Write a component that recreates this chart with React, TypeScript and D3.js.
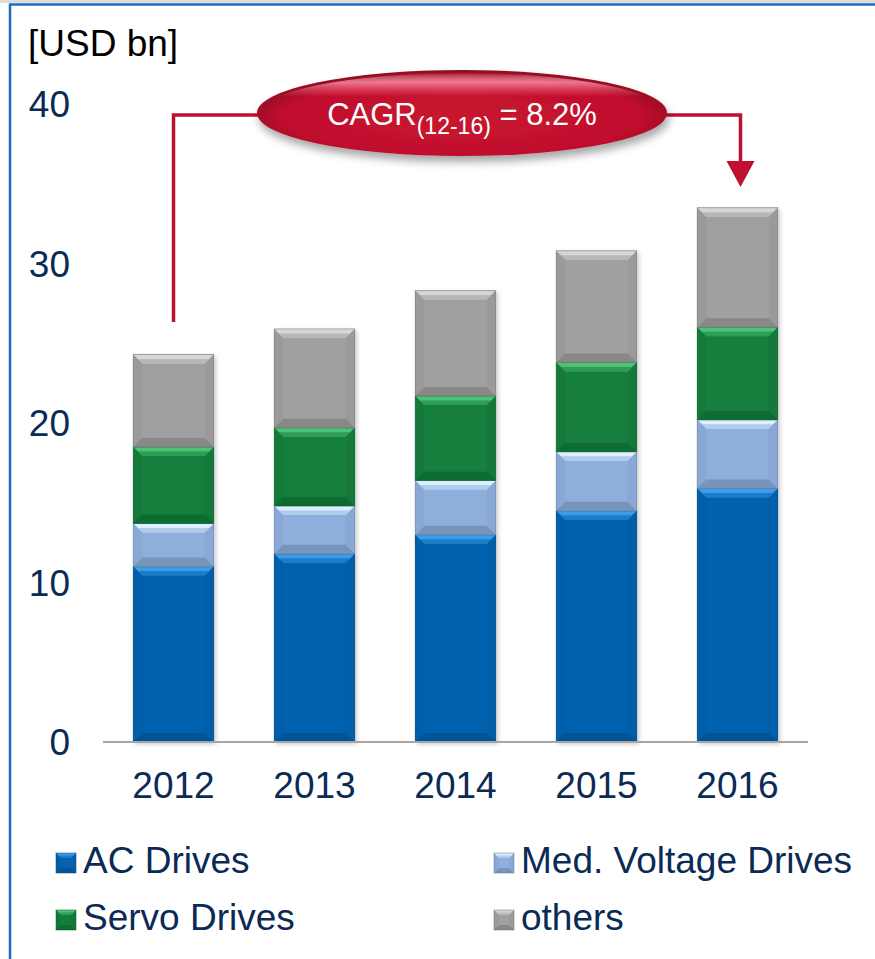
import React from "react";
import { scaleBand, scaleLinear, stack, color } from "d3";

const years = ["2012", "2013", "2014", "2015", "2016"];
const seriesNames = ["AC Drives", "Med. Voltage Drives", "Servo Drives", "others"];
const acDrives = [11.0, 11.8, 13.0, 14.5, 15.9];
const medVoltage = [2.7, 3.0, 3.4, 3.7, 4.3];
const servoDrives = [4.8, 4.9, 5.3, 5.6, 5.8];
const others = [5.8, 6.2, 6.6, 7.0, 7.5];
const yTicks = [0, 10, 20, 30, 40];
const cagrLabel = "CAGR";
const cagrPeriod = "(12-16)";
const cagrValue = " = 8.2%";

// base / top bevel / bottom bevel / side bevel
const palette = [
  { base: "#0562af", top: "#3a9ce8", bottom: "#0455990", side: "#055ea8" },
  { base: "#8eaedb", top: "#dcefff", bottom: "#7d98c2", side: "#89a8d5" },
  { base: "#147f3c", top: "#4cc274", bottom: "#0f6630", side: "#12783a" },
  { base: "#a0a0a0", top: "#d6d6d6", bottom: "#878787", side: "#9a9a9a" },
].map((p) => ({ ...p, bottom: color(p.base)!.darker(0.45).formatHex() }));

const W = 875;
const H = 959;
const FONT = "Arial, 'Liberation Sans', Helvetica, sans-serif";
const TEXT = "#0b2a55";
const RED = "#c1102f";

function Bevel({ x, y, w, h, b, c }: { x: number; y: number; w: number; h: number; b: number; c: (typeof palette)[number] }) {
  const bb = Math.min(b, h / 2, w / 2);
  const pts = (p: number[][]) => p.map((q) => q.join(",")).join(" ");
  return (
    <g>
      <rect x={x} y={y} width={w} height={h} fill={c.base} />
      <polygon points={pts([[x, y], [x + bb, y + bb], [x + bb, y + h - bb], [x, y + h]])} fill={c.side} />
      <polygon points={pts([[x + w, y], [x + w - bb, y + bb], [x + w - bb, y + h - bb], [x + w, y + h]])} fill={c.side} />
      <polygon points={pts([[x, y + h], [x + bb, y + h - bb], [x + w - bb, y + h - bb], [x + w, y + h]])} fill={c.bottom} />
      <polygon points={pts([[x, y], [x + w, y], [x + w - bb, y + bb], [x + bb, y + bb]])} fill={c.top} />
      <polygon
        points={pts([[x + bb * 0.5, y + bb * 0.5], [x + w - bb * 0.5, y + bb * 0.5], [x + w - bb, y + bb], [x + bb, y + bb]])}
        fill={c.base}
        opacity={0.55}
      />
      <rect x={x} y={y} width={w} height={h} fill="none" stroke={color(c.base)!.darker(1).formatHex()} strokeOpacity={0.5} strokeWidth={1} />
    </g>
  );
}

export default function App() {
  const rows = years.map((yr, i) => ({
    year: yr,
    [seriesNames[0]]: acDrives[i],
    [seriesNames[1]]: medVoltage[i],
    [seriesNames[2]]: servoDrives[i],
    [seriesNames[3]]: others[i],
  }));
  const stacked = stack<any>().keys(seriesNames)(rows);

  const x = scaleBand().domain(years).range([103, 808]).paddingInner(0.43).paddingOuter(0.215);
  const y = scaleLinear().domain([0, 40]).range([742, 104]);

  const first = years[0];
  const last = years[years.length - 1];
  const x0 = x(first)! + x.bandwidth() / 2;
  const x1 = x(last)! + x.bandwidth() / 2;
  const ex = 462;
  const ey = 113;
  const rx = 205;
  const ry = 43;

  return (
    <div style={{ position: "absolute", left: 0, top: 0 }}>
      <svg width={W} height={H} viewBox={`0 0 ${W} ${H}`} style={{ display: "block", background: "#fff" }}>
        <defs>
          <radialGradient id="ellFill" cx="50%" cy="55%" r="55%">
            <stop offset="0%" stopColor="#c8142f" />
            <stop offset="80%" stopColor="#c0102d" />
            <stop offset="100%" stopColor="#8e0a20" />
          </radialGradient>
          <linearGradient id="ellShine" x1="0" y1="0" x2="0" y2="1">
            <stop offset="0%" stopColor="#ffffff" stopOpacity={0.05} />
            <stop offset="12%" stopColor="#ff9aae" stopOpacity={0.75} />
            <stop offset="30%" stopColor="#ff6a86" stopOpacity={0} />
            <stop offset="100%" stopColor="#ff6a86" stopOpacity={0} />
          </linearGradient>
          <filter id="shadow" x="-20%" y="-30%" width="140%" height="170%">
            <feDropShadow dx="2" dy="6" stdDeviation="4" floodColor="#000" floodOpacity="0.35" />
          </filter>
          <filter id="barShadow" x="-10%" y="-5%" width="130%" height="110%">
            <feDropShadow dx="2" dy="2" stdDeviation="2" floodColor="#000" floodOpacity="0.2" />
          </filter>
        </defs>

        {/* frame */}
        <rect x={0} y={0} width={W} height={3} fill="#dcdcdc" />
        <line x1={9} x2={W} y1={4.5} y2={4.5} stroke="#1b6cc0" strokeWidth={2.5} />
        <line x1={10} x2={10} y1={4} y2={H} stroke="#1b6cc0" strokeWidth={2.5} />

        {/* unit */}
        <text x={28} y={56} fontFamily={FONT} fontSize={37} fill="#000">[USD bn]</text>

        {/* y ticks */}
        {yTicks.map((t) => (
          <text key={t} x={70} y={y(t) + 13} textAnchor="end" fontFamily={FONT} fontSize={37} fill={TEXT}>
            {t}
          </text>
        ))}

        {/* bars */}
        <g filter="url(#barShadow)">
          {stacked.map((s, si) =>
            s.map((d, i) => (
              <Bevel
                key={`${si}-${i}`}
                x={x(years[i])!}
                y={y(d[1])}
                w={x.bandwidth()}
                h={y(d[0]) - y(d[1])}
                b={9}
                c={palette[si]}
              />
            ))
          )}
        </g>

        {/* axis */}
        <line x1={103} x2={808} y1={y(0)} y2={y(0)} stroke="#a6a6a6" strokeWidth={2} />

        {years.map((yr) => (
          <text key={yr} x={x(yr)! + x.bandwidth() / 2} y={798} textAnchor="middle" fontFamily={FONT} fontSize={37} fill={TEXT}>
            {yr}
          </text>
        ))}

        {/* CAGR connector */}
        <polyline
          points={`${x0},322 ${x0},${ey + 2} ${ex - rx + 5},${ey + 2}`}
          fill="none"
          stroke={RED}
          strokeWidth={3.5}
        />
        <polyline
          points={`${ex + rx - 5},${ey + 2} ${x1 + 3},${ey + 2} ${x1 + 3},163`}
          fill="none"
          stroke={RED}
          strokeWidth={3.5}
        />
        <polygon points={`${x1 - 11},161 ${x1 + 17},161 ${x1 + 3},187`} fill={RED} />

        <g filter="url(#shadow)">
          <ellipse cx={ex} cy={ey} rx={rx} ry={ry} fill="url(#ellFill)" />
        </g>
        <ellipse cx={ex} cy={ey} rx={rx - 4} ry={ry - 3} fill="url(#ellShine)" />
        <text x={ex} y={125} textAnchor="middle" fontFamily={FONT} fontSize={31} fill="#fff">
          {cagrLabel}
          <tspan fontSize={23} dy={9}>{cagrPeriod}</tspan>
          <tspan fontSize={31} dy={-9}>{cagrValue}</tspan>
        </text>

        {/* legend */}
        {seriesNames.map((name, i) => {
          const lx = i % 2 === 0 ? 56 : 494;
          const ly = i < 2 ? 873 : 930;
          return (
            <g key={name}>
              <Bevel x={lx} y={ly - 20} w={20} h={20} b={5} c={palette[i]} />
              <text x={lx + 27} y={ly} fontFamily={FONT} fontSize={37} fill={TEXT}>
                {name}
              </text>
            </g>
          );
        })}
      </svg>
    </div>
  );
}
